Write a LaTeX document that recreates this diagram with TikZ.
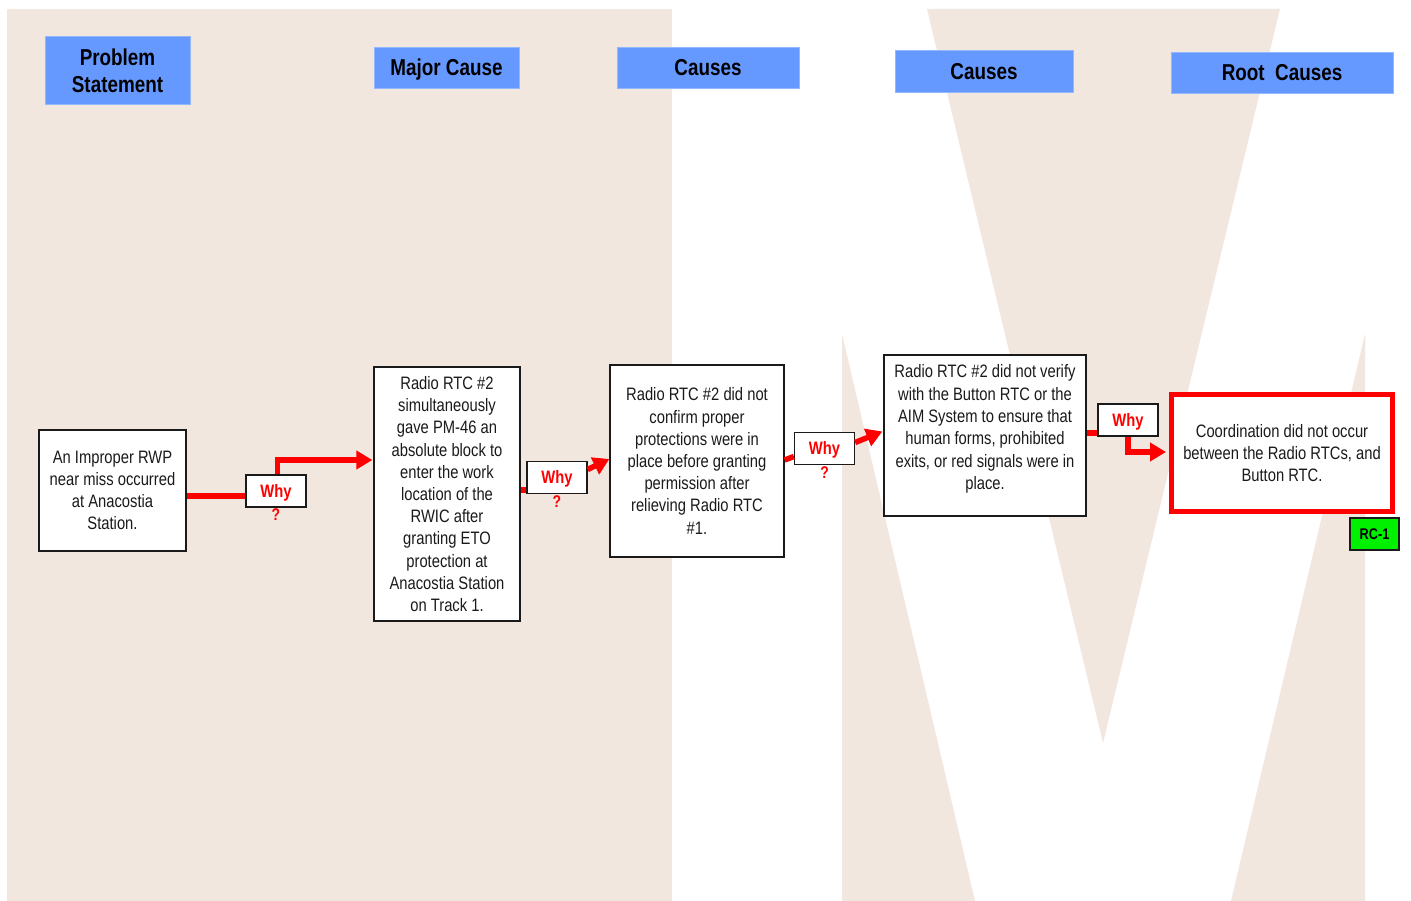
\documentclass[tikz,border=0pt]{standalone}
\usepackage{fontspec}
\setmainfont{Liberation Sans}[FakeStretch=0.82]
\usetikzlibrary{arrows.meta,calc}
\definecolor{bg}{HTML}{F2E7DF}
\definecolor{hdr}{HTML}{6699FF}
\definecolor{rcg}{HTML}{00F000}
\definecolor{ink}{HTML}{1A1A1A}
\begin{document}
\begin{tikzpicture}[x=1pt,y=-1pt,
  hdrbox/.style={draw=hdr!70!white, fill=hdr, line width=0.8pt, inner sep=0pt, align=center, text=black,
    font=\fontsize{23}{27}\selectfont\bfseries},
  hdrone/.style={hdrbox, text height=16.5pt, text depth=0pt},
  box/.style={draw=ink, fill=white, line width=1.3pt, inner sep=0pt, align=center, text=ink,
    font=\fontsize{18}{22.2}\selectfont},
  txt/.style={inner sep=0pt, align=center, text=ink, font=\fontsize{18}{22.4}\selectfont},
  whybox/.style={draw=ink, fill=white, line width=1.3pt, inner sep=0pt, minimum width=60pt,
    minimum height=32pt, text=red, text height=12.9pt, text depth=0pt, font=\fontsize{18}{22}\selectfont\bfseries},
  qmark/.style={text=red, inner sep=0pt, anchor=north, font=\fontsize{17}{18}\selectfont\bfseries},
  conn/.style={draw=red, line width=5.5pt},
  arr/.style={conn, -{Triangle[length=16pt,width=18pt]}},
]
\useasboundingbox (0,0) rectangle (1411,901);
\fill[white] (0,0) rectangle (1411,901);
% background shapes
\fill[bg] (7,9) rectangle (672,901);
\fill[bg] (927,9) -- (1280,9) -- (1103,743) -- cycle;
\fill[bg] (842,334) -- (975,901) -- (842,901) -- cycle;
\fill[bg] (1365,334) -- (1365,901) -- (1231,901) -- cycle;

% headers
\node[hdrbox, minimum width=145pt, minimum height=68pt] (h1) at (117.5,70.5) {Problem\\Statement};
\node[hdrone, minimum width=145pt, minimum height=41pt] (h2) at (446.5,67.5) {Major Cause};
\node[hdrone, minimum width=182pt, minimum height=41pt] (h3) at (708,67.5) {Causes};
\node[hdrone, minimum width=178pt, minimum height=42pt] (h4) at (984,71) {Causes};
\node[hdrone, minimum width=222pt, minimum height=41pt] (h5) at (1282,72.5) {Root\ \ Causes};

% main boxes
\node[box, minimum width=147pt, minimum height=121pt] (b1) at (112.5,490.5)
  {An Improper RWP\\near miss occurred\\at Anacostia\\Station.};
\node[box, minimum width=146pt, minimum height=254pt] (b2) at (447,494)
  {Radio RTC \#2\\simultaneously\\gave PM-46 an\\absolute block to\\enter the work\\location of the\\RWIC after\\granting ETO\\protection at\\Anacostia Station\\on Track 1.};
\node[box, minimum width=174pt, minimum height=192pt] (b3) at (697,461)
  {Radio RTC \#2 did not\\confirm proper\\protections were in\\place before granting\\permission after\\relieving Radio RTC\\\#1.};
\node[box, minimum width=202pt, minimum height=161pt] (b4) at (985,435.5) {};
\node[txt] (t4) at (985,429)
  {Radio RTC \#2 did not verify\\with the Button RTC or the\\AIM System to ensure that\\human forms, prohibited\\exits, or red signals were in\\place.};
\node[box, draw=red, line width=5pt, minimum width=221pt, minimum height=117pt] (b5) at (1282,453)
  {Coordination did not occur\\between the Radio RTCs, and\\Button RTC.};
\node[box, fill=rcg, minimum width=49pt, minimum height=32pt, text height=11pt, text depth=0pt,
  font=\fontsize{15.5}{17}\selectfont\bfseries, text=black] (rc) at (1374.5,534) {RC-1};

% why boxes
\node[whybox] (w1) at (276,491) {Why};
\node[whybox] (w2) at (557,477.5) {Why};
\node[whybox] (w3) at (824.5,448.5) {Why};
\node[whybox] (w4) at (1128,420) {Why};
\node[qmark] (q1) at ([yshift=-1pt]w1.south) {?};
\node[qmark] (q2) at ([yshift=-1pt]w2.south) {?};
\node[qmark] (q3) at ([yshift=-1pt]w3.south) {?};

% connectors
\coordinate (p1) at ($(w1.west)+(0,5)$);
\draw[conn] (b1.east |- p1) -- (p1);
\coordinate (p2) at ($(b2.west)+(-1,-34)$);
\draw[arr] ($(w1.north)+(1.5,0)$) |- (p2);

\coordinate (p3) at ($(w2.west)+(0,12.5)$);
\draw[conn] (b2.east |- p3) -- (p3);
\draw[arr] ($(w2.east)+(0,-8)$) -- ($(b3.west)+(0,-2)$);

\draw[conn] ($(b3.east)+(0,-1)$) -- ($(w3.west)+(0,8)$);
\draw[arr] ($(w3.east)+(0,-6)$) -- ($(b4.west)+(-1,-4)$);

\coordinate (p7) at ($(w4.west)+(0,13)$);
\draw[conn] (b4.east |- p7) -- (p7);
\coordinate (p8) at ($(b5.west)+(-3,-1)$);
\draw[arr] (w4.south) |- (p8);
\end{tikzpicture}
\end{document}
